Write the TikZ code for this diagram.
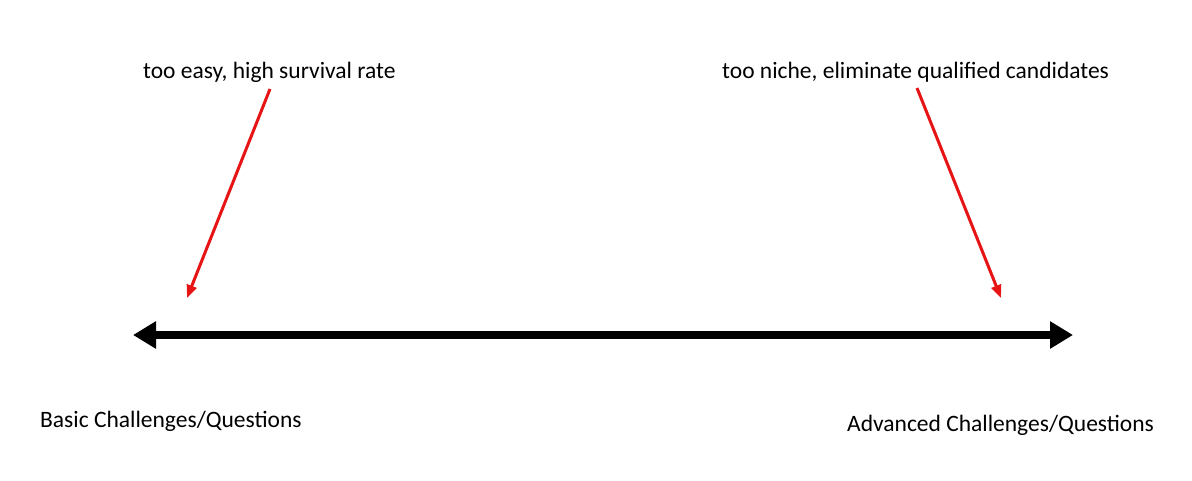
\documentclass[tikz,border=0pt]{standalone}
\usepackage{fontspec}
\setmainfont{Carlito}
\usetikzlibrary{arrows.meta}
\begin{document}
\begin{tikzpicture}[x=1pt,y=-1pt,
  lbl/.style={inner sep=0pt,font=\fontsize{23.5}{28}\selectfont,text=black},
  axis/.style={line width=8pt,{Triangle[length=23pt,width=26pt]}-{Triangle[length=23pt,width=26pt]}},
  redarrow/.style={draw={rgb,255:red,230;green,20;blue,20},line width=3pt,-{Triangle[length=13pt,width=10pt]}}]
\useasboundingbox[fill=white] (0,0) rectangle (1192,480);
\node[lbl,anchor=base west] (t1) at (143,78) {too easy, high survival rate};
\node[lbl,anchor=base west] (t2) at (722,78) {too niche, eliminate qualified candidates};
\node[lbl,anchor=base west] (b1) at (40,427) {Basic Challenges/Questions};
\node[lbl,anchor=base west] (b2) at (847,431) {Advanced Challenges/Questions};
\coordinate (L) at (133,335);
\coordinate (R) at (1073,335);
\draw[axis] (L) -- (R);
\coordinate (s1) at (270,89);
\coordinate (e1) at (187,298);
\coordinate (s2) at (917,88);
\coordinate (e2) at (1001,298);
\draw[redarrow] (s1) -- (e1);
\draw[redarrow] (s2) -- (e2);
\end{tikzpicture}
\end{document}
